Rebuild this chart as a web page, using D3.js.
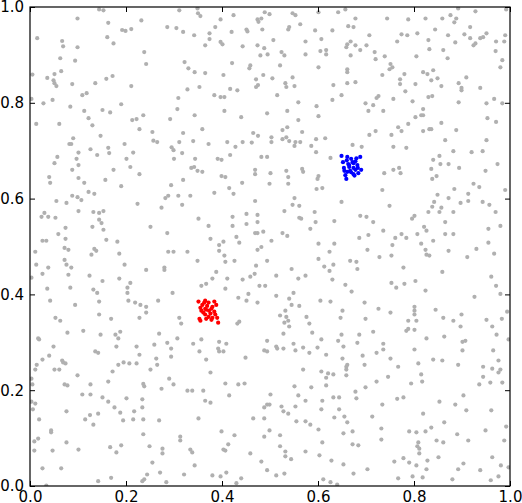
<!DOCTYPE html>
<html>
<head>
<meta charset="utf-8">
<script src="https://cdn.jsdelivr.net/npm/d3@7"></script>
<style>
  body { margin: 0; background: #fff; }
  svg { display: block; }
  .tick text { font-family: "DejaVu Sans", sans-serif; font-size: 15px; fill: #000; }
  .tick line { stroke: #000; }
</style>
</head>
<body>
<div id="chart"></div>
<script>
// background points
const grayPoints = [
  [0.144,0.995],[0.153,0.993],[0.099,0.976],[0.163,0.967],[0.232,0.972],[0.192,0.952],[0.199,0.950],[0.211,0.954],
  [0.015,0.935],[0.161,0.937],[0.067,0.929],[0.069,0.918],[0.099,0.916],[0.174,0.924],[0.238,0.906],[0.063,0.893],
  [0.094,0.888],[0.242,0.881],[0.005,0.859],[0.065,0.866],[0.051,0.860],[0.036,0.852],[0.049,0.847],[0.051,0.841],
  [0.055,0.835],[0.088,0.839],[0.136,0.841],[0.159,0.850],[0.172,0.856],[0.211,0.835],[0.003,0.808],[0.028,0.799],
  [0.047,0.806],[0.109,0.816],[0.118,0.820],[0.084,0.792],[0.190,0.797],[0.113,0.783],[0.151,0.785],[0.167,0.780],
  [0.122,0.768],[0.236,0.774],[0.213,0.764],[0.222,0.766],[0.013,0.756],[0.061,0.756],[0.130,0.753],[0.228,0.745],
  [0.147,0.731],[0.090,0.726],[0.082,0.714],[0.086,0.714],[0.197,0.714],[0.126,0.703],[0.163,0.706],[0.101,0.696],
  [0.165,0.695],[0.215,0.696],[0.140,0.691],[0.057,0.687],[0.097,0.683],[0.201,0.683],[0.051,0.674],[0.101,0.670],
  [0.311,0.993],[0.349,0.997],[0.350,0.987],[0.355,0.981],[0.397,0.974],[0.424,0.983],[0.489,0.989],[0.474,0.974],
  [0.476,0.969],[0.482,0.976],[0.286,0.958],[0.305,0.956],[0.319,0.948],[0.342,0.941],[0.374,0.945],[0.386,0.958],
  [0.420,0.948],[0.451,0.953],[0.453,0.949],[0.484,0.953],[0.374,0.933],[0.365,0.920],[0.397,0.927],[0.401,0.922],
  [0.443,0.918],[0.474,0.920],[0.488,0.914],[0.480,0.899],[0.495,0.901],[0.322,0.885],[0.330,0.872],[0.343,0.864],
  [0.365,0.862],[0.421,0.883],[0.459,0.878],[0.457,0.872],[0.403,0.858],[0.471,0.849],[0.486,0.858],[0.353,0.833],
  [0.328,0.828],[0.417,0.829],[0.432,0.826],[0.475,0.837],[0.471,0.833],[0.384,0.816],[0.397,0.812],[0.405,0.812],
  [0.309,0.810],[0.307,0.787],[0.405,0.783],[0.494,0.778],[0.343,0.774],[0.440,0.770],[0.292,0.766],[0.359,0.745],
  [0.255,0.739],[0.319,0.737],[0.465,0.737],[0.475,0.731],[0.257,0.721],[0.265,0.718],[0.311,0.718],[0.340,0.720],
  [0.372,0.714],[0.411,0.718],[0.443,0.718],[0.462,0.717],[0.295,0.707],[0.299,0.701],[0.317,0.695],[0.428,0.708],
  [0.417,0.691],[0.482,0.687],[0.494,0.687],[0.300,0.683],[0.344,0.683],[0.391,0.683],[0.399,0.681],
  [0.499,0.985],[0.547,0.987],[0.553,0.983],[0.601,0.989],[0.642,0.989],[0.657,0.995],[0.678,0.976],[0.744,0.976],
  [0.563,0.964],[0.540,0.958],[0.538,0.953],[0.594,0.951],[0.630,0.951],[0.663,0.960],[0.674,0.958],[0.707,0.941],
  [0.507,0.931],[0.574,0.928],[0.607,0.933],[0.668,0.928],[0.661,0.922],[0.659,0.916],[0.678,0.920],[0.701,0.920],
  [0.524,0.906],[0.530,0.899],[0.574,0.901],[0.605,0.908],[0.617,0.910],[0.617,0.901],[0.668,0.899],[0.688,0.910],
  [0.718,0.906],[0.720,0.891],[0.739,0.897],[0.521,0.878],[0.601,0.874],[0.661,0.870],[0.661,0.864],[0.734,0.858],
  [0.505,0.851],[0.547,0.853],[0.532,0.841],[0.534,0.833],[0.551,0.835],[0.632,0.837],[0.661,0.841],[0.678,0.843],
  [0.515,0.816],[0.649,0.816],[0.630,0.806],[0.726,0.814],[0.722,0.810],[0.559,0.801],[0.699,0.799],[0.715,0.795],
  [0.597,0.793],[0.705,0.783],[0.736,0.783],[0.536,0.783],[0.601,0.772],[0.559,0.764],[0.536,0.749],[0.526,0.743],
  [0.567,0.739],[0.503,0.728],[0.503,0.718],[0.526,0.724],[0.534,0.728],[0.540,0.720],[0.553,0.718],[0.563,0.718],
  [0.551,0.710],[0.586,0.710],[0.596,0.724],[0.615,0.726],[0.707,0.733],[0.720,0.741],[0.672,0.712],[0.691,0.708],
  [0.596,0.697],[0.626,0.685],
  [0.788,0.974],[0.824,0.976],[0.859,0.976],[0.876,0.983],[0.888,0.976],[0.884,0.968],[0.892,0.997],[0.928,0.991],
  [0.992,0.995],[0.774,0.943],[0.786,0.941],[0.765,0.928],[0.807,0.945],[0.844,0.953],[0.871,0.941],[0.905,0.943],
  [0.917,0.958],[0.917,0.935],[0.938,0.935],[0.944,0.937],[0.951,0.945],[0.971,0.928],[0.988,0.928],[0.990,0.941],
  [0.830,0.931],[0.832,0.912],[0.861,0.910],[0.886,0.926],[0.924,0.920],[0.928,0.924],[0.970,0.908],[0.805,0.897],
  [0.870,0.893],[0.984,0.889],[0.980,0.874],[0.749,0.870],[0.751,0.881],[0.755,0.874],[0.771,0.849],[0.771,0.839],
  [0.780,0.860],[0.819,0.864],[0.828,0.860],[0.840,0.868],[0.836,0.847],[0.849,0.851],[0.857,0.835],[0.909,0.853],
  [0.803,0.839],[0.893,0.841],[0.899,0.831],[0.899,0.826],[0.938,0.831],[0.782,0.824],[0.757,0.808],[0.797,0.803],
  [0.830,0.812],[0.838,0.814],[0.893,0.801],[0.951,0.799],[0.967,0.808],[0.984,0.799],[0.819,0.787],[0.815,0.774],
  [0.819,0.774],[0.803,0.770],[0.788,0.756],[0.857,0.758],[0.953,0.768],[0.971,0.760],[0.767,0.749],[0.774,0.741],
  [0.819,0.741],[0.832,0.745],[0.836,0.745],[0.888,0.743],[0.753,0.733],[0.865,0.722],[0.951,0.722],[0.757,0.708],
  [0.784,0.706],[0.882,0.699],[0.920,0.697],[0.943,0.699],[0.853,0.689],[0.840,0.681],[0.872,0.672],[0.855,0.672],
  [0.974,0.672],
  [0.088,0.660],[0.174,0.660],[0.209,0.666],[0.228,0.651],[0.040,0.645],[0.042,0.633],[0.101,0.643],[0.113,0.633],
  [0.157,0.639],[0.190,0.626],[0.122,0.614],[0.134,0.610],[0.088,0.606],[0.099,0.603],[0.107,0.597],[0.055,0.595],
  [0.076,0.591],[0.224,0.589],[0.101,0.574],[0.132,0.572],[0.144,0.570],[0.153,0.574],[0.024,0.562],[0.030,0.570],
  [0.038,0.562],[0.053,0.560],[0.144,0.556],[0.149,0.549],[0.130,0.541],[0.074,0.539],[0.153,0.535],[0.059,0.526],
  [0.074,0.516],[0.159,0.514],[0.182,0.510],[0.026,0.512],[0.034,0.512],[0.072,0.497],[0.080,0.493],[0.134,0.495],
  [0.138,0.491],[0.128,0.483],[0.186,0.485],[0.011,0.489],[0.072,0.472],[0.076,0.462],[0.086,0.456],[0.013,0.462],
  [0.038,0.456],[0.197,0.462],[0.242,0.451],[0.026,0.443],[0.080,0.441],[0.124,0.439],[0.003,0.435],[0.186,0.433],
  [0.151,0.428],[0.209,0.424],[0.084,0.414],[0.036,0.412],[0.132,0.410],[0.140,0.403],[0.203,0.414],[0.203,0.403],
  [0.042,0.387],[0.144,0.385],[0.094,0.378],[0.205,0.387],[0.219,0.383],[0.230,0.378],[0.242,0.374],[0.144,0.358],
  [0.242,0.362],[0.053,0.351],[0.063,0.345],[0.169,0.349],[0.228,0.351],
  [0.336,0.664],[0.342,0.666],[0.349,0.658],[0.359,0.656],[0.399,0.647],[0.407,0.645],[0.442,0.633],[0.469,0.660],
  [0.469,0.651],[0.294,0.628],[0.319,0.639],[0.282,0.601],[0.288,0.606],[0.309,0.606],[0.334,0.606],[0.384,0.612],
  [0.415,0.622],[0.424,0.610],[0.274,0.581],[0.317,0.587],[0.469,0.595],[0.351,0.558],[0.372,0.543],[0.422,0.562],
  [0.422,0.543],[0.451,0.568],[0.474,0.566],[0.474,0.551],[0.451,0.547],[0.251,0.541],[0.286,0.528],[0.376,0.516],
  [0.394,0.503],[0.403,0.510],[0.430,0.520],[0.436,0.508],[0.469,0.528],[0.474,0.528],[0.486,0.531],[0.288,0.489],
  [0.299,0.489],[0.328,0.489],[0.394,0.491],[0.405,0.481],[0.407,0.468],[0.426,0.470],[0.349,0.470],[0.474,0.493],
  [0.482,0.499],[0.494,0.470],[0.280,0.456],[0.280,0.451],[0.388,0.447],[0.471,0.460],[0.468,0.443],[0.459,0.437],
  [0.443,0.431],[0.411,0.433],[0.380,0.433],[0.357,0.418],[0.367,0.422],[0.407,0.412],[0.478,0.418],[0.490,0.418],
  [0.455,0.401],[0.297,0.403],[0.267,0.387],[0.434,0.393],[0.451,0.387],[0.474,0.383],[0.311,0.351],[0.315,0.339],
  [0.432,0.339],[0.436,0.343],
  [0.501,0.653],[0.534,0.658],[0.538,0.645],[0.567,0.662],[0.569,0.656],[0.601,0.647],[0.599,0.641],[0.499,0.631],
  [0.538,0.631],[0.597,0.620],[0.609,0.622],[0.738,0.653],[0.734,0.618],[0.551,0.601],[0.649,0.593],[0.547,0.587],
  [0.561,0.585],[0.530,0.574],[0.593,0.572],[0.561,0.560],[0.565,0.558],[0.595,0.551],[0.634,0.553],[0.688,0.564],
  [0.701,0.562],[0.715,0.551],[0.584,0.537],[0.736,0.533],[0.526,0.528],[0.536,0.522],[0.503,0.512],[0.686,0.518],
  [0.705,0.524],[0.601,0.506],[0.634,0.506],[0.624,0.489],[0.703,0.493],[0.728,0.478],[0.601,0.474],[0.667,0.470],
  [0.680,0.468],[0.613,0.458],[0.632,0.462],[0.682,0.453],[0.545,0.453],[0.624,0.449],[0.574,0.439],[0.513,0.439],
  [0.559,0.433],[0.630,0.431],[0.657,0.420],[0.670,0.406],[0.513,0.397],[0.549,0.403],[0.540,0.391],[0.545,0.378],
  [0.561,0.376],[0.605,0.387],[0.626,0.385],[0.697,0.383],[0.726,0.370],[0.532,0.366],[0.521,0.356],[0.534,0.353],
  [0.538,0.345],[0.530,0.341],[0.576,0.353],[0.582,0.339],[0.647,0.351],[0.651,0.366],[0.699,0.349],
  [0.757,0.660],[0.769,0.664],[0.772,0.653],[0.836,0.662],[0.894,0.664],[0.949,0.658],[0.838,0.641],[0.847,0.647],
  [0.884,0.620],[0.924,0.631],[0.936,0.624],[0.990,0.618],[0.849,0.608],[0.872,0.601],[0.913,0.610],[0.749,0.585],
  [0.842,0.593],[0.838,0.583],[0.830,0.572],[0.857,0.581],[0.853,0.572],[0.882,0.572],[0.897,0.591],[0.913,0.595],
  [0.943,0.593],[0.957,0.587],[0.970,0.572],[0.801,0.564],[0.796,0.558],[0.865,0.551],[0.980,0.543],[0.955,0.537],
  [0.821,0.541],[0.826,0.533],[0.774,0.526],[0.761,0.518],[0.784,0.518],[0.807,0.526],[0.865,0.526],[0.882,0.526],
  [0.840,0.512],[0.815,0.506],[0.755,0.503],[0.955,0.508],[0.930,0.495],[0.824,0.493],[0.872,0.491],[0.753,0.481],
  [0.826,0.483],[0.832,0.481],[0.911,0.478],[0.967,0.485],[0.778,0.456],[0.859,0.447],[0.961,0.437],[0.971,0.418],
  [0.980,0.401],[0.926,0.395],[0.753,0.424],[0.763,0.414],[0.780,0.422],[0.803,0.428],[0.824,0.408],[0.801,0.374],
  [0.801,0.366],[0.801,0.358],[0.845,0.368],[0.899,0.358],[0.751,0.362],[0.994,0.364],[0.788,0.345],[0.805,0.345],
  [0.861,0.351],[0.882,0.345],[0.951,0.347],[0.983,0.349],
  [0.017,0.308],[0.019,0.306],[0.078,0.320],[0.111,0.324],[0.147,0.316],[0.178,0.316],[0.184,0.308],[0.188,0.322],
  [0.180,0.291],[0.222,0.291],[0.049,0.291],[0.040,0.272],[0.026,0.264],[0.014,0.253],[0.011,0.243],[0.003,0.224],
  [0.067,0.262],[0.069,0.258],[0.074,0.256],[0.051,0.243],[0.061,0.243],[0.099,0.231],[0.072,0.212],[0.078,0.210],
  [0.126,0.212],[0.136,0.281],[0.142,0.278],[0.184,0.253],[0.172,0.239],[0.163,0.218],[0.195,0.258],[0.207,0.256],
  [0.222,0.256],[0.228,0.274],[0.005,0.212],[0.003,0.176],[0.011,0.172],[0.006,0.160],[0.109,0.191],[0.126,0.191],
  [0.151,0.185],[0.163,0.176],[0.176,0.164],[0.188,0.153],[0.201,0.183],[0.217,0.156],[0.234,0.164],[0.234,0.181],
  [0.236,0.139],[0.236,0.108],[0.236,0.213],[0.238,0.208],[0.076,0.156],[0.125,0.148],[0.115,0.139],[0.142,0.151],
  [0.132,0.128],[0.019,0.139],[0.194,0.137],[0.215,0.139],[0.044,0.116],[0.044,0.112],[0.017,0.099],[0.009,0.093],
  [0.076,0.091],[0.190,0.085],[0.167,0.081],[0.009,0.074],[0.047,0.074],[0.101,0.076],[0.180,0.070],[0.026,0.037],
  [0.065,0.037],[0.244,0.024],[0.142,0.010],[0.169,0.017],[0.234,0.010],[0.238,0.014],[0.034,0.001],
  [0.269,0.318],[0.259,0.295],[0.286,0.299],[0.294,0.287],[0.294,0.270],[0.307,0.308],[0.340,0.297],[0.357,0.306],
  [0.353,0.281],[0.367,0.264],[0.394,0.301],[0.392,0.287],[0.394,0.281],[0.403,0.281],[0.409,0.297],[0.449,0.268],
  [0.494,0.303],[0.488,0.283],[0.494,0.281],[0.263,0.266],[0.265,0.253],[0.251,0.243],[0.290,0.224],[0.299,0.212],
  [0.274,0.203],[0.328,0.199],[0.338,0.199],[0.361,0.199],[0.376,0.237],[0.365,0.178],[0.376,0.174],[0.407,0.214],
  [0.415,0.189],[0.434,0.212],[0.447,0.214],[0.494,0.170],[0.488,0.164],[0.465,0.141],[0.488,0.141],[0.351,0.141],
  [0.269,0.137],[0.313,0.103],[0.313,0.095],[0.399,0.114],[0.426,0.106],[0.413,0.087],[0.403,0.076],[0.407,0.074],
  [0.334,0.076],[0.338,0.070],[0.488,0.103],[0.276,0.078],[0.276,0.068],[0.249,0.083],[0.255,0.049],[0.343,0.043],
  [0.459,0.068],[0.482,0.051],[0.494,0.033],[0.271,0.028],[0.321,0.024],[0.380,0.022],[0.397,0.020],[0.409,0.028],
  [0.430,0.006],[0.440,0.016],[0.284,0.008],
  [0.540,0.333],[0.528,0.318],[0.513,0.291],[0.515,0.287],[0.528,0.287],[0.549,0.297],[0.553,0.283],[0.569,0.289],
  [0.582,0.278],[0.588,0.320],[0.599,0.289],[0.607,0.306],[0.617,0.274],[0.642,0.303],[0.649,0.316],[0.653,0.291],
  [0.651,0.266],[0.682,0.299],[0.686,0.316],[0.715,0.322],[0.693,0.272],[0.697,0.253],[0.722,0.278],[0.736,0.297],
  [0.736,0.285],[0.746,0.228],[0.569,0.243],[0.607,0.239],[0.617,0.226],[0.621,0.235],[0.632,0.233],[0.659,0.243],
  [0.659,0.249],[0.661,0.253],[0.659,0.231],[0.586,0.206],[0.551,0.208],[0.617,0.210],[0.699,0.206],[0.722,0.218],
  [0.678,0.197],[0.680,0.183],[0.501,0.191],[0.499,0.170],[0.524,0.166],[0.528,0.156],[0.538,0.151],[0.553,0.166],
  [0.559,0.189],[0.574,0.178],[0.609,0.178],[0.607,0.160],[0.632,0.185],[0.644,0.185],[0.644,0.160],[0.634,0.143],
  [0.655,0.145],[0.661,0.133],[0.734,0.170],[0.713,0.145],[0.555,0.135],[0.574,0.135],[0.584,0.128],[0.601,0.118],
  [0.653,0.110],[0.672,0.114],[0.732,0.120],[0.732,0.097],[0.499,0.116],[0.521,0.106],[0.521,0.083],[0.532,0.072],
  [0.532,0.062],[0.544,0.056],[0.574,0.072],[0.603,0.064],[0.609,0.091],[0.628,0.053],[0.653,0.045],[0.672,0.087],
  [0.684,0.085],[0.674,0.026],[0.703,0.035],[0.513,0.022],[0.530,0.026],[0.611,0.014],[0.626,0.008],[0.640,0.003],
  [0.784,0.324],[0.788,0.328],[0.801,0.326],[0.826,0.308],[0.863,0.312],[0.897,0.333],[0.901,0.301],[0.907,0.303],
  [0.901,0.283],[0.963,0.333],[0.972,0.316],[0.965,0.283],[0.997,0.306],[0.801,0.285],[0.751,0.266],[0.767,0.249],
  [0.809,0.256],[0.840,0.264],[0.859,0.262],[0.892,0.253],[0.815,0.233],[0.817,0.218],[0.794,0.214],[0.944,0.249],
  [0.944,0.228],[0.936,0.212],[0.959,0.216],[0.963,0.245],[0.976,0.262],[0.980,0.243],[0.976,0.237],[0.984,0.216],
  [0.765,0.182],[0.778,0.185],[0.853,0.176],[0.886,0.170],[0.903,0.189],[0.909,0.158],[0.819,0.151],[0.961,0.158],
  [0.992,0.124],[0.790,0.114],[0.805,0.112],[0.824,0.114],[0.836,0.122],[0.863,0.133],[0.890,0.108],[0.913,0.095],
  [0.949,0.116],[0.988,0.095],[0.847,0.095],[0.861,0.091],[0.809,0.091],[0.807,0.083],[0.811,0.078],[0.811,0.068],
  [0.759,0.051],[0.778,0.058],[0.790,0.049],[0.805,0.043],[0.828,0.053],[0.851,0.060],[0.826,0.035],[0.903,0.047],
  [0.892,0.035],[0.938,0.033],[0.963,0.060],[0.981,0.043],[0.997,0.039],[0.767,0.016],[0.797,0.020],[0.818,0.018],
  [0.880,0.014],[0.960,0.012],[0.976,0.020]
];

// red cluster near (0.37, 0.37)
const redPoints = [
  [0.351,0.385],[0.365,0.387],[0.372,0.383],[0.384,0.385],[0.359,0.378],[0.369,0.376],[0.355,0.372],[0.365,0.370],
  [0.380,0.374],[0.388,0.378],[0.357,0.366],[0.367,0.368],[0.378,0.370],[0.361,0.362],[0.376,0.360],[0.384,0.364],
  [0.365,0.358],[0.372,0.353],[0.353,0.349],[0.367,0.349],[0.380,0.351],[0.378,0.347],[0.390,0.351],[0.355,0.345],
  [0.392,0.341],[0.386,0.358],[0.363,0.383],[0.373,0.366]
];

// blue cluster near (0.67, 0.67)
const bluePoints = [
  [0.649,0.689],[0.661,0.687],[0.669,0.683],[0.678,0.678],[0.688,0.687],[0.674,0.674],[0.665,0.670],[0.682,0.670],
  [0.654,0.664],[0.665,0.666],[0.674,0.664],[0.678,0.660],[0.690,0.660],[0.684,0.653],[0.674,0.651],[0.661,0.656],
  [0.657,0.649],[0.659,0.641],[0.667,0.658],[0.676,0.648],[0.652,0.676],[0.660,0.680],[0.672,0.676],[0.680,0.684],
  [0.663,0.672],[0.655,0.658],[0.683,0.664],[0.669,0.655]
];

const ticks = [0.0, 0.2, 0.4, 0.6, 0.8, 1.0];

const width = 522, height = 503;
const margin = {left: 30, right: 12, top: 7, bottom: 17};

const svg = d3.select("#chart").append("svg")
    .attr("width", width)
    .attr("height", height);

const x = d3.scaleLinear().domain([0, 1]).range([margin.left, width - margin.right]);
const y = d3.scaleLinear().domain([0, 1]).range([height - margin.bottom, margin.top]);

svg.append("clipPath")
    .attr("id", "plotClip")
  .append("rect")
    .attr("x", x(0))
    .attr("y", y(1))
    .attr("width", x(1) - x(0))
    .attr("height", y(0) - y(1));

const pts = svg.append("g").attr("clip-path", "url(#plotClip)");

function drawPoints(data, color) {
    pts.append("g")
        .selectAll("circle")
        .data(data)
        .enter()
        .append("circle")
        .attr("cx", d => x(d[0]))
        .attr("cy", d => y(d[1]))
        .attr("r", 2.1)
        .attr("fill", color);
}

drawPoints(grayPoints, "#b0b0b0");
drawPoints(redPoints, "#ff0000");
drawPoints(bluePoints, "#0000ff");

// axes, ticks point inward on all four sides
const fmt = d3.format(".1f");

svg.append("g")
    .attr("transform", `translate(0,${y(0)})`)
    .call(d3.axisBottom(x).tickValues(ticks).tickFormat(fmt).tickSizeInner(-5).tickSizeOuter(0).tickPadding(5))
    .call(g => g.select(".domain").remove());

svg.append("g")
    .attr("transform", `translate(${x(0)},0)`)
    .call(d3.axisLeft(y).tickValues(ticks).tickFormat(fmt).tickSizeInner(-5).tickSizeOuter(0).tickPadding(6))
    .call(g => g.select(".domain").remove());

svg.append("g")
    .attr("transform", `translate(0,${y(1)})`)
    .call(d3.axisTop(x).tickValues(ticks).tickFormat("").tickSizeInner(-5).tickSizeOuter(0))
    .call(g => g.select(".domain").remove());

svg.append("g")
    .attr("transform", `translate(${x(1)},0)`)
    .call(d3.axisRight(y).tickValues(ticks).tickFormat("").tickSizeInner(-5).tickSizeOuter(0))
    .call(g => g.select(".domain").remove());

svg.selectAll(".tick text").attr("font-family", null).attr("font-size", null);

// frame
svg.append("rect")
    .attr("x", x(0))
    .attr("y", y(1))
    .attr("width", x(1) - x(0))
    .attr("height", y(0) - y(1))
    .attr("fill", "none")
    .attr("stroke", "#000")
    .attr("stroke-width", 1.2);
</script>
</body>
</html>
